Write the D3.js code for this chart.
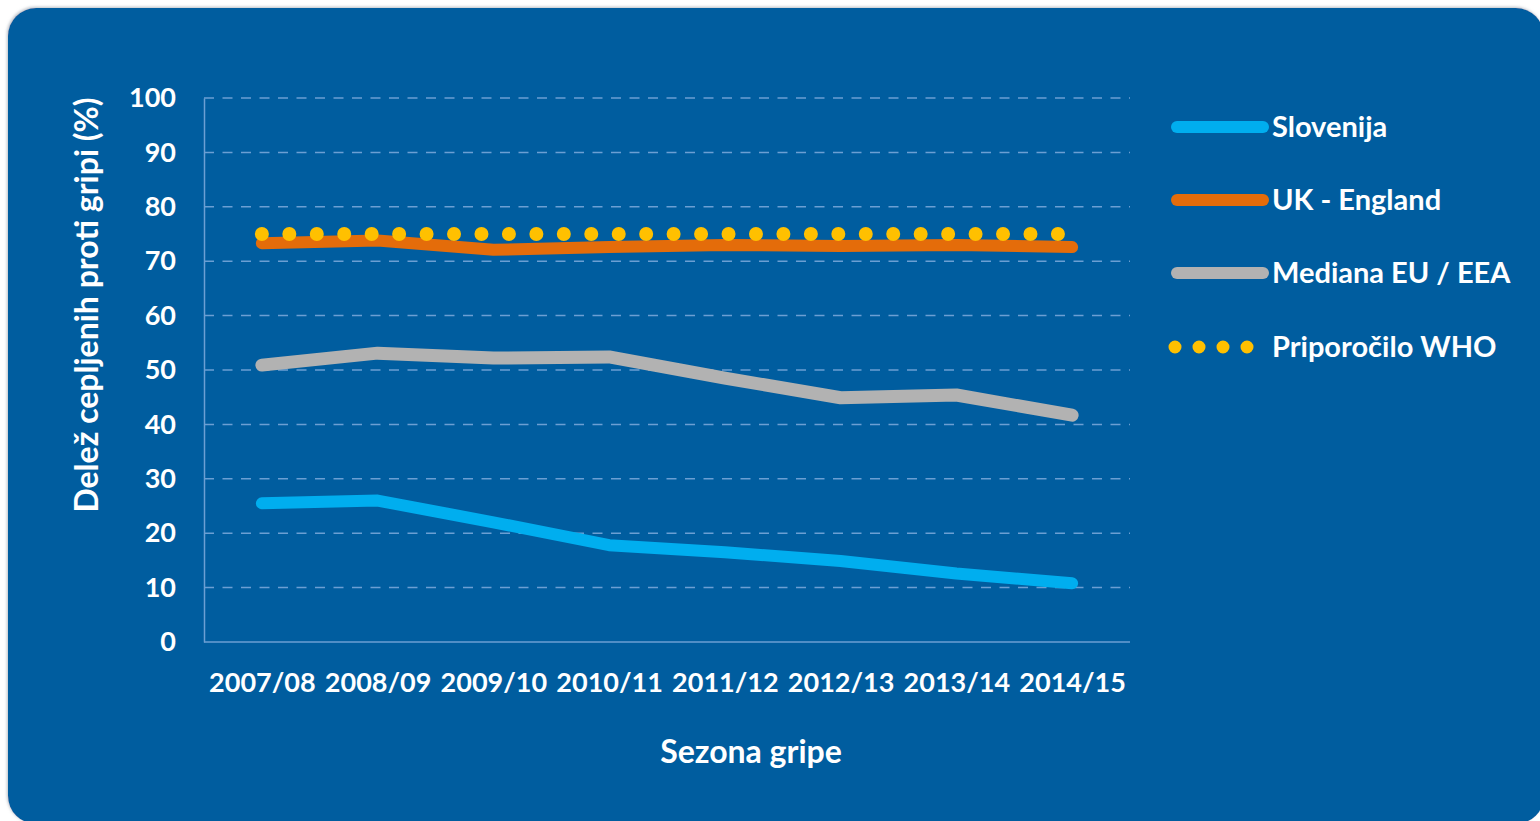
<!DOCTYPE html>
<html>
<head>
<meta charset="utf-8">
<script src="https://cdn.jsdelivr.net/npm/d3@7"></script>
<style>
  html, body { margin: 0; padding: 0; background: #ffffff; }
  svg { display: block; }
  text { font-family: Lato, "Open Sans", sans-serif; font-weight: 700; fill: #ffffff; }
</style>
</head>
<body>
<svg id="chart" width="1540" height="821"></svg>
<script>
// Influenza vaccination coverage by season
const seasons = ["2007/08", "2008/09", "2009/10", "2010/11", "2011/12", "2012/13", "2013/14", "2014/15"];
const slovenija = [25.5, 26.0, 22.0, 17.8, 16.5, 14.9, 12.6, 10.8];
const ukEngland = [73.3, 73.8, 72.1, 72.6, 73.0, 72.8, 73.0, 72.6];
const medianaEU = [50.9, 53.1, 52.2, 52.4, 48.5, 44.9, 45.4, 41.7];
const whoTarget = [75, 75, 75, 75, 75, 75, 75, 75];
const yTicks = [0, 10, 20, 30, 40, 50, 60, 70, 80, 90, 100];

const seriesNames = ["Slovenija", "UK - England", "Mediana EU / EEA", "Priporočilo WHO"];
const seriesColors = ["#00aeef", "#e46c0a", "#b2b2b2", "#ffc000"];

const svg = d3.select("#chart");

// rounded blue panel with a soft grey rim
const defs = svg.append("defs");
const f = defs.append("filter").attr("id", "rim").attr("x", "-5%").attr("y", "-5%").attr("width", "110%").attr("height", "110%");
f.append("feGaussianBlur").attr("in", "SourceAlpha").attr("stdDeviation", 1.5).attr("result", "b");
f.append("feOffset").attr("in", "b").attr("dx", -1).attr("dy", -1).attr("result", "o");
f.append("feFlood").attr("flood-color", "#9aa3ad").attr("flood-opacity", 0.7);
f.append("feComposite").attr("in2", "o").attr("operator", "in");
const fm = f.append("feMerge");
fm.append("feMergeNode");
fm.append("feMergeNode").attr("in", "SourceGraphic");

svg.append("rect")
  .attr("x", 8).attr("y", 8)
  .attr("width", 1536).attr("height", 816)
  .attr("rx", 28).attr("ry", 28)
  .attr("fill", "#025d9f")
  .attr("filter", "url(#rim)");

const plot = { left: 204, right: 1130, top: 98, bottom: 642 };

const x = d3.scalePoint().domain(seasons).range([plot.left, plot.right]).padding(0.5);
const y = d3.scaleLinear().domain([0, 100]).range([plot.bottom, plot.top]);

const gridColor = "#6b9fd3";

// horizontal dashed gridlines
svg.append("g")
  .selectAll("line")
  .data(yTicks.filter(t => t > 0))
  .join("line")
  .attr("x1", plot.left).attr("x2", plot.right)
  .attr("y1", d => y(d)).attr("y2", d => y(d))
  .attr("stroke", gridColor)
  .attr("stroke-width", 1.5)
  .attr("stroke-dasharray", "10,8.5");

// y axis
const yAxis = svg.append("g")
  .attr("transform", `translate(${plot.left},0)`)
  .call(d3.axisLeft(y).tickValues(yTicks).tickSize(0).tickPadding(28));
yAxis.select(".domain").attr("stroke", gridColor).attr("stroke-width", 1.5);
yAxis.selectAll("text")
  .attr("font-size", 27)
  .attr("fill", "#ffffff")
  .attr("font-family", "Lato, sans-serif")
  .attr("font-weight", 700);

// x axis
const xAxis = svg.append("g")
  .attr("transform", `translate(0,${plot.bottom})`)
  .call(d3.axisBottom(x).tickSize(0).tickPadding(31));
xAxis.select(".domain")
  .attr("d", `M${plot.left},0H${plot.right}`)
  .attr("stroke", gridColor).attr("stroke-width", 1.5);
xAxis.selectAll("text")
  .attr("font-size", 27)
  .attr("fill", "#ffffff")
  .attr("font-family", "Lato, sans-serif")
  .attr("font-weight", 700);

// axis titles
svg.append("text")
  .attr("x", 751).attr("y", 763)
  .attr("text-anchor", "middle")
  .attr("font-size", 32)
  .text("Sezona gripe");

svg.append("text")
  .attr("transform", "translate(98,305) rotate(-90)")
  .attr("text-anchor", "middle")
  .attr("font-size", 32)
  .text("Delež cepljenih proti gripi (%)");

// series lines
const line = d3.line().x((d, i) => x(seasons[i])).y(d => y(d));

const solidSeries = [
  { values: medianaEU, color: seriesColors[2], width: 13 },
  { values: slovenija, color: seriesColors[0], width: 12 },
  { values: ukEngland, color: seriesColors[1], width: 12 }
];

svg.append("g")
  .selectAll("path")
  .data(solidSeries)
  .join("path")
  .attr("d", d => line(d.values))
  .attr("fill", "none")
  .attr("stroke", d => d.color)
  .attr("stroke-width", d => d.width)
  .attr("stroke-linecap", "round")
  .attr("stroke-linejoin", "round");

// WHO recommendation as a round-dotted line
svg.append("path")
  .attr("d", line(whoTarget))
  .attr("fill", "none")
  .attr("stroke", seriesColors[3])
  .attr("stroke-width", 14)
  .attr("stroke-linecap", "round")
  .attr("stroke-dasharray", "0,27.45");

// legend
const legend = svg.append("g");
const legendY = [127, 200, 273, 347];
seriesNames.forEach((name, i) => {
  const g = legend.append("g").attr("transform", `translate(0,${legendY[i]})`);
  if (i < 3) {
    g.append("line")
      .attr("x1", 1177).attr("x2", 1263)
      .attr("y1", 0).attr("y2", 0)
      .attr("stroke", seriesColors[i])
      .attr("stroke-width", 12)
      .attr("stroke-linecap", "round");
  } else {
    g.append("line")
      .attr("x1", 1175).attr("x2", 1250)
      .attr("y1", 0).attr("y2", 0)
      .attr("stroke", seriesColors[i])
      .attr("stroke-width", 13)
      .attr("stroke-linecap", "round")
      .attr("stroke-dasharray", "0,24");
  }
  g.append("text")
    .attr("x", 1272).attr("y", 0)
    .attr("dy", "0.35em")
    .attr("font-size", 29)
    .text(name);
});
</script>
</body>
</html>
